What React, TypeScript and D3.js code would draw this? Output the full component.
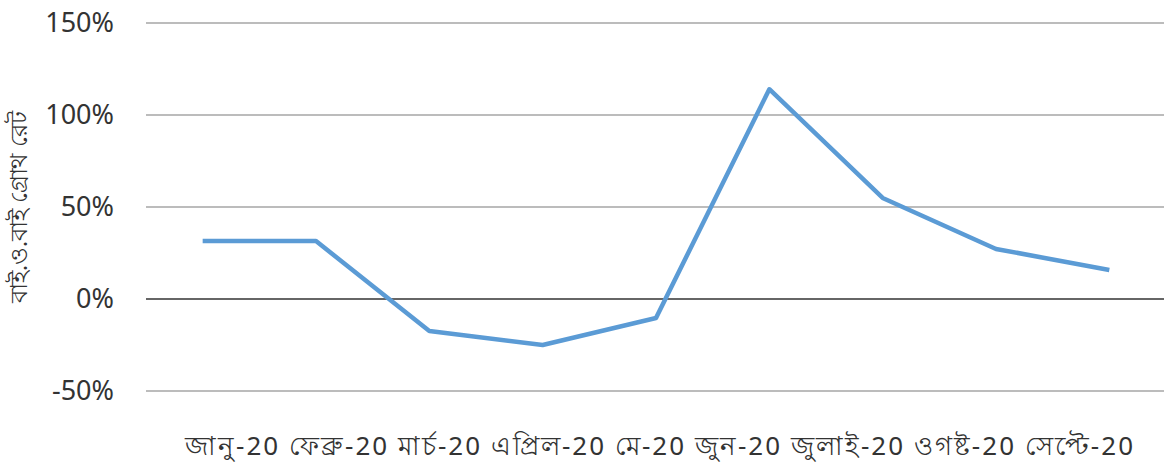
import React from "react";
import * as d3 from "d3";

const categories = ["জানু-20", "ফেব্রু-20", "মার্চ-20", "এপ্রিল-20", "মে-20", "জুন-20", "জুলাই-20", "ওগষ্ট-20", "সেপ্টে-20"];
const growth = [31.5, 31.5, -17.4, -25, -10.3, 114, 54.9, 27.2, 15.8];
const yTicks = [-50, 0, 50, 100, 150];
const yTitle = "বাই.ও.বাই গ্রোথ রেট";

export default function App() {
  const W = 1164, H = 466;
  const x = d3.scaleBand<string>().domain(categories).range([146, 1166]);
  const y = d3.scaleLinear().domain([-50, 150]).range([391, 23]);
  const line = d3.line<number>()
    .x((_, i) => (x(categories[i]) as number) + x.bandwidth() / 2)
    .y((d) => y(d));
  const font = "'Noto Sans', 'Open Sans', sans-serif";
  return (
    <svg width={W} height={H} style={{ position: "absolute", left: 0, top: 0, background: "#fff" }} fontFamily={font}>
      {yTicks.map((t) => (
        <g key={t}>
          <line x1={146} x2={1164} y1={y(t)} y2={y(t)} stroke={t === 0 ? "#333" : "#a6a6a6"} strokeWidth={1.3} />
          <text x={114} y={y(t)} dy="0.35em" textAnchor="end" fontSize={27} fill="#333">{t}%</text>
        </g>
      ))}
      <text x={659} y={446} dy="0.35em" textAnchor="middle" fontSize={26} fill="#333" textLength={948} lengthAdjust="spacing">{categories.join(" ")}</text>
      <text transform={`translate(19,${207}) rotate(-90)`} textAnchor="middle" dy="0.35em" fontSize={24} fill="#333" textLength={192} lengthAdjust="spacing">{yTitle}</text>
      <path d={line(growth) || ""} fill="none" stroke="#5b9bd5" strokeWidth={4.5} strokeLinejoin="round" />
    </svg>
  );
}
